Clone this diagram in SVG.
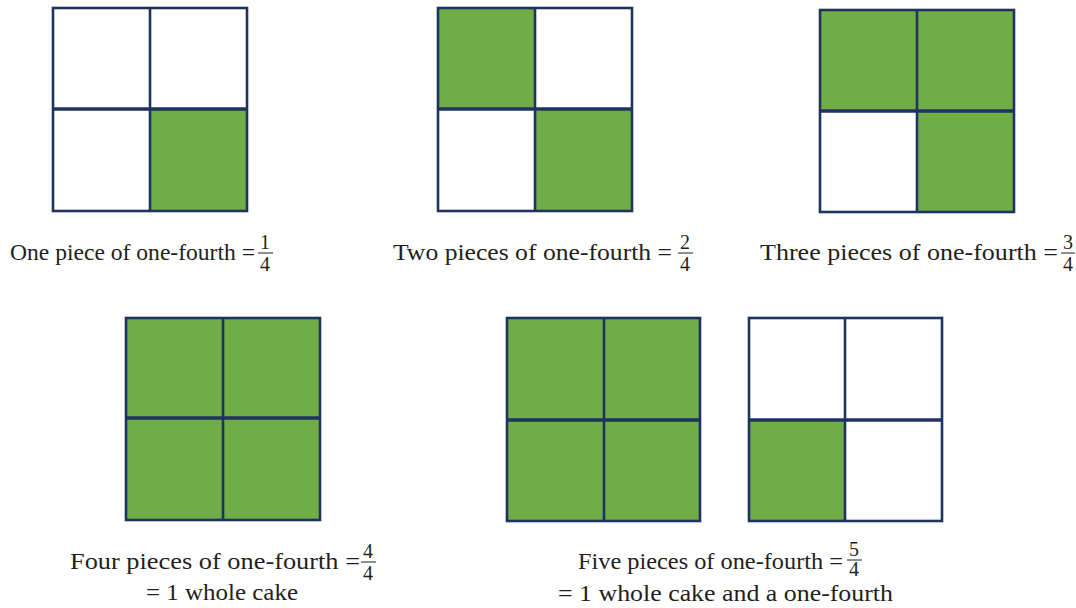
<svg xmlns="http://www.w3.org/2000/svg" width="1076" height="608" viewBox="0 0 1076 608">
<style>
.g{fill:#70AD47}
.o{fill:none;stroke:#1F3360;stroke-width:2.6}
.d{stroke:#1F3360;stroke-width:2.6}
.h{stroke:#1F3360;stroke-width:3.4}
text{font-family:'Liberation Serif','Times New Roman',serif;fill:#231F20}
.t{font-size:23px}
.f{font-size:20px;text-anchor:middle}
.b{stroke:#231F20;stroke-width:1}
</style>
<rect width="1076" height="608" fill="#FFFFFF"/>
<g id="cake1">
<rect class="g" x="150" y="109" width="97" height="102"/>
<rect class="o" x="53" y="8" width="194" height="203"/>
<line class="d" x1="150" y1="8" x2="150" y2="211"/>
<line class="h" x1="53" y1="109" x2="247" y2="109"/>
</g>
<g id="cake2">
<rect class="g" x="438" y="8" width="97" height="101"/>
<rect class="g" x="535" y="109" width="97" height="102"/>
<rect class="o" x="438" y="8" width="194" height="203"/>
<line class="d" x1="535" y1="8" x2="535" y2="211"/>
<line class="h" x1="438" y1="109" x2="632" y2="109"/>
</g>
<g id="cake3">
<rect class="g" x="820" y="10" width="194" height="101"/>
<rect class="g" x="917" y="111" width="97" height="101"/>
<rect class="o" x="820" y="10" width="194" height="202"/>
<line class="d" x1="917" y1="10" x2="917" y2="212"/>
<line class="h" x1="820" y1="111" x2="1014" y2="111"/>
</g>
<g id="cake4">
<rect class="g" x="126" y="318" width="194" height="202"/>
<rect class="o" x="126" y="318" width="194" height="202"/>
<line class="d" x1="223" y1="318" x2="223" y2="520"/>
<line class="h" x1="126" y1="418" x2="320" y2="418"/>
</g>
<g id="cake5a">
<rect class="g" x="507" y="318" width="193" height="203"/>
<rect class="o" x="507" y="318" width="193" height="203"/>
<line class="d" x1="604" y1="318" x2="604" y2="521"/>
<line class="h" x1="507" y1="420" x2="700" y2="420"/>
</g>
<g id="cake5b">
<rect class="g" x="749" y="420" width="96" height="101"/>
<rect class="o" x="749" y="318" width="193" height="203"/>
<line class="d" x1="845" y1="318" x2="845" y2="521"/>
<line class="h" x1="749" y1="420" x2="942" y2="420"/>
</g>
<g id="label1">
<text class="t" x="10" y="260" textLength="245" lengthAdjust="spacingAndGlyphs">One piece of one-fourth =</text>
<text class="f" x="265" y="249">1</text>
<line class="b" x1="258" y1="253" x2="273" y2="253"/>
<text class="f" x="265" y="271">4</text>
</g>
<g id="label2">
<text class="t" x="393" y="260" textLength="279" lengthAdjust="spacingAndGlyphs">Two pieces of one-fourth =</text>
<text class="f" x="685" y="249">2</text>
<line class="b" x1="678" y1="253" x2="693" y2="253"/>
<text class="f" x="685" y="271">4</text>
</g>
<g id="label3">
<text class="t" x="760" y="260" textLength="298" lengthAdjust="spacingAndGlyphs">Three pieces of one-fourth =</text>
<text class="f" x="1068" y="249">3</text>
<line class="b" x1="1061" y1="253" x2="1075" y2="253"/>
<text class="f" x="1068" y="271">4</text>
</g>
<g id="label4">
<text class="t" x="70" y="569" textLength="290" lengthAdjust="spacingAndGlyphs">Four pieces of one-fourth =</text>
<text class="f" x="368" y="558">4</text>
<line class="b" x1="361" y1="562" x2="376" y2="562"/>
<text class="f" x="368" y="580">4</text>
<text class="t" x="222" y="600" text-anchor="middle" textLength="152" lengthAdjust="spacingAndGlyphs">= 1 whole cake</text>
</g>
<g id="label5">
<text class="t" x="578" y="569" textLength="265" lengthAdjust="spacingAndGlyphs">Five pieces of one-fourth =</text>
<text class="f" x="854" y="556">5</text>
<line class="b" x1="847" y1="560" x2="862" y2="560"/>
<text class="f" x="854" y="576" font-size="19">4</text>
<text class="t" x="558" y="601" textLength="335" lengthAdjust="spacingAndGlyphs">= 1 whole cake and a one-fourth</text>
</g>
</svg>
